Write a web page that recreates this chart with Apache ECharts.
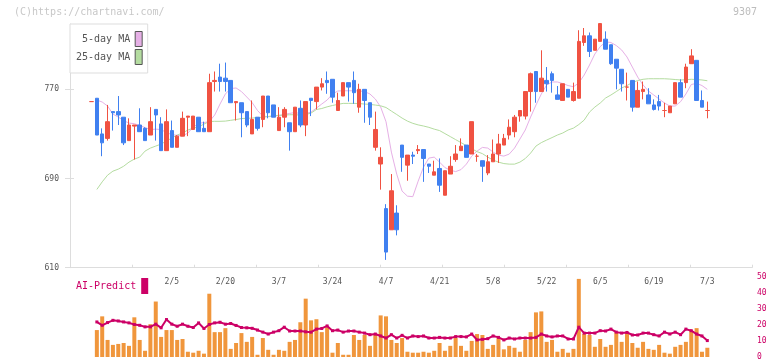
<!DOCTYPE html>
<html>
<head>
<meta charset="utf-8">
<script src="https://cdn.jsdelivr.net/npm/echarts@6/dist/echarts.min.js"></script>
<style>
html,body{margin:0;padding:0;background:#fff;}
#c{width:772px;height:361px;}
</style>
</head>
<body>
<div id="c"></div>
<script>
// ---- data ----
const dates = ['1/15','1/16','1/17','1/20','1/21','1/22','1/23','1/24','1/27','1/28','1/29','1/30','1/31',
'2/3','2/4','2/5','2/6','2/7','2/10','2/12','2/13','2/14','2/17','2/18','2/19','2/20','2/21','2/25','2/26','2/27','2/28',
'3/3','3/4','3/5','3/6','3/7','3/10','3/11','3/12','3/13','3/14','3/17','3/18','3/19','3/21','3/24','3/25','3/26','3/27','3/28','3/31',
'4/1','4/2','4/3','4/4','4/7','4/8','4/9','4/10','4/11','4/14','4/15','4/16','4/17','4/18','4/21','4/22','4/23','4/24','4/25','4/28','4/30',
'5/1','5/2','5/7','5/8','5/9','5/12','5/13','5/14','5/15','5/16','5/19','5/20','5/21','5/22','5/23','5/26','5/27','5/28','5/29','5/30',
'6/2','6/3','6/4','6/5','6/6','6/9','6/10','6/11','6/12','6/13','6/16','6/17','6/18','6/19','6/20','6/23','6/24','6/25','6/26','6/27','6/30',
'7/1','7/2','7/3'];
const tickLabels = ['2/5','2/20','3/7','3/24','4/7','4/21','5/8','5/22','6/5','6/19','7/3'];
const priceTicks = [610, 690, 770];
const subTicks = [0, 10, 20, 30, 40, 50];

const openP  = [759,762,730,726,750,750,745,724,737,738,735,729,752,739,715,733,718,728,745,734,745,735,732,777,781,780,778,758,758,750,730,745,743,764,756,733,745,740,732,753,738,762,759,772,778,779,751,764,776,778,754,770,758,718,703,663,644,659,720,702,711,715,716,703,693,699,675,694,707,715,720,712,710,706,695,705,712,720,729,732,746,746,768,786,768,778,784,765,760,770,760,762,812,818,805,813,815,810,797,788,772,778,754,768,765,756,759,751,749,757,776,776,793,796,760,751];
const closeP = [759,729,722,741,749,747,722,738,738,732,724,741,747,715,741,718,728,744,746,746,732,732,776,778,777,777,758,759,749,738,743,735,764,749,745,745,752,732,754,738,759,760,772,775,776,763,760,776,772,767,770,760,745,734,709,624,679,644,709,711,710,716,708,701,696,684,697,701,712,719,709,741,710,701,705,712,721,726,736,745,751,768,784,768,780,775,778,761,775,763,768,813,818,804,815,829,806,793,789,775,772,754,769,770,757,752,755,751,755,776,763,790,800,760,754,751];
const lowP   = [759,729,710,724,733,738,720,724,707,732,724,729,724,715,715,718,718,728,728,734,732,732,732,768,768,768,758,742,727,736,730,733,736,744,745,733,736,715,732,736,728,746,752,769,766,758,751,764,759,757,749,740,738,715,680,617,644,639,696,688,703,712,687,695,693,678,675,694,705,715,709,712,705,687,693,705,704,720,725,727,741,743,750,758,768,768,767,761,760,763,759,762,809,799,805,813,806,792,770,768,760,750,754,761,757,751,751,745,749,757,763,771,793,760,754,744];
const highP  = [759,762,735,756,750,764,745,744,738,753,736,754,752,745,752,742,729,750,746,746,745,741,784,786,793,794,778,759,758,750,760,745,764,764,756,754,754,740,754,760,759,762,772,780,786,779,767,776,776,786,775,770,758,750,718,667,694,666,720,711,714,720,716,703,706,708,697,710,720,726,720,741,712,706,711,725,730,730,743,747,751,768,785,786,805,790,786,773,775,770,776,823,825,821,815,829,822,810,797,788,785,778,777,777,771,761,765,758,755,776,779,793,806,796,769,759];

const ma5 = [null,760.4,758.6,755,747.8,745.1,742,739.7,739.2,737.5,735.7,733.9,734.3,733.9,731.2,729.4,728.7,728.1,730.8,736.1,739.5,740.2,741.1,746.9,756.8,765.8,770.7,771.2,768,763.1,758.1,751,746,745.4,746,746.5,747.4,748.4,749.2,748.2,748.2,749.6,753.2,756.8,760.4,765.8,768.5,768.7,768.7,768.7,768.5,768,765.8,761.3,754.1,740.9,713.7,693.9,678.7,674.2,673.7,687.6,700.2,708.3,709.2,704.7,699.8,697.5,696.2,698,702.9,710.1,714.6,717.9,717.3,713.7,711,710.1,711.9,717.3,725.4,733.5,745.1,755.9,765.8,773.9,776.6,776.6,775.2,773.4,772.3,775.7,782.8,791.8,801.7,808.3,812.5,812,809.3,805.3,799,790,781,773.9,768.5,764.9,761.3,757.7,755,755,758.9,765.8,774.3,775.4,773.4,770];
const ma25 = [null,680.2,687,693,696.6,698.4,701,704.7,707.4,709.2,714.6,717.3,719.1,720.9,723.6,726.3,729,730.8,733.5,735.2,736.4,738.8,741.1,741.3,741.3,741.5,742.2,742.9,743.8,744,744.2,744.7,744.9,745.6,746.3,746.7,746.9,747.2,747.2,746.9,747.4,748.7,751.9,752.8,754.3,755.5,756.5,757.4,757.4,757.4,757.2,756.8,756.5,755.9,755.2,753.7,750.5,747.4,744.2,741.5,739.5,738.1,737.1,735.9,734.3,733,730.3,727.6,724.9,722.2,719.5,716.8,714.1,712.3,709.2,706.5,704.7,703.4,702.9,702.9,704.7,707.9,712.8,719.1,722.2,724.5,726.7,729,730.8,733.5,735.2,738.4,742.4,749.6,754.1,757.7,762.2,764.9,768,771.2,773.4,776.1,777.9,779,779.5,779.5,779.5,779.5,779.2,778.8,778.4,778.6,779,778.8,778.4,777.7];

const volume = [null,16.9,25.5,10.7,7.6,8.2,8.8,7.0,24.9,10.7,3.9,20.6,34.8,12.6,16.9,16.9,10.7,11.3,3.3,2.7,3.9,2.1,39.7,15.6,15.6,18.1,5.1,8.8,15.0,9.5,12.6,1.4,11.9,4.5,1.4,4.5,3.9,9.5,10.7,21.8,36.6,23.0,23.7,15.6,18.7,2.7,8.8,1.4,1.4,13.8,10.7,13.8,7.0,13.8,26.1,25.5,10.7,8.8,11.9,3.3,2.7,2.7,3.3,2.7,3.9,8.8,3.9,7.0,11.9,7.0,3.9,10.1,14.4,13.8,5.1,7.6,11.9,4.8,7.0,5.8,3.3,10.7,15.6,28.0,28.6,9.5,10.7,3.3,5.1,2.7,5.1,49.0,14.4,13.8,6.4,11.3,6.4,7.6,15.6,9.5,15.6,8.8,5.8,9.5,5.1,4.5,7.6,2.7,2.1,6.4,7.6,9.5,16.3,18.1,3.3,5.8];
const aiPredict = [null,22.0,19.9,21.6,23.0,22.6,22.0,21.4,20.4,19.9,18.9,18.9,20.6,18.3,23.5,20.6,19.3,20.6,19.3,18.5,21.4,17.9,20.4,21.4,21.8,20.6,21.0,19.8,18.5,18.3,18.0,16.9,15.6,14.4,15.6,16.5,18.7,16.3,16.3,16.3,15.8,15.6,17.5,17.9,19.5,16.5,16.9,15.6,16.3,16.3,15.6,15.0,14.0,14.4,13.2,11.9,14.0,11.9,13.6,11.9,13.2,12.8,13.2,11.9,11.9,12.3,11.9,11.9,12.8,12.8,12.6,14.4,10.7,11.1,11.5,13.2,12.3,10.7,11.9,11.3,11.9,11.9,11.9,12.3,14.4,13.2,12.6,13.2,13.2,11.3,11.3,18.7,15.0,15.0,15.0,16.5,16.3,17.5,15.6,15.0,15.4,13.8,13.8,15.0,15.0,14.0,13.2,15.6,14.4,15.6,14.0,17.5,16.5,14.4,13.2,10.3];

// ---- chart ----
const MONO = '"DejaVu Sans Mono", "Liberation Mono", monospace';
const UP = '#f05242', DOWN = '#4080f0', CRIMSON = '#cc0066';
const candles = openP.map((o, i) => [o, closeP[i], lowP[i], highP[i]]);

const chart = echarts.init(document.getElementById('c'), null, {renderer: 'canvas'});
const PMIN = priceTicks[0], PMAX = 828.6;
const plotL = 88.82, plotR = 62.0;

chart.setOption({
  animation: false,
  backgroundColor: '#fff',
  graphic: [
    {type: 'text', left: 14, top: 7, style: {text: '(C)https://chartnavi.com/', font: '10px ' + MONO, fill: '#c8c8c8'}},
    {type: 'text', right: 15, top: 7, style: {text: '9307', font: '10px ' + MONO, fill: '#bdbdbd'}}
  ],
  legend: [
    {
      data: ['5-day MA', '25-day MA'], left: 70, top: 24, orient: 'vertical', align: 'right',
      itemWidth: 7, itemHeight: 15, itemGap: 2, padding: [7, 5, 8, 6],
      backgroundColor: '#fff', borderColor: '#dddddd', borderWidth: 1, selectedMode: false,
      icon: 'rect', itemStyle: {borderColor: '#555', borderWidth: 1},
      textStyle: {fontFamily: MONO, fontSize: 10, color: '#555'}
    },
    {
      data: ['AI-Predict'], left: 76, top: 278, orient: 'vertical', align: 'right',
      itemWidth: 7, itemHeight: 16, padding: 0, selectedMode: false, icon: 'rect',
      textStyle: {fontFamily: MONO, fontSize: 10, color: CRIMSON}
    }
  ],
  grid: [
    {left: 70, right: 20, top: 24, bottom: 93.3},
    {left: plotL, right: plotR, top: 24, bottom: 93.3},
    {left: plotL, right: plotR, top: 277.3, bottom: 2.7}
  ],
  xAxis: [
    {gridIndex: 0, type: 'value', min: 0, max: 11, interval: 1,
     axisLine: {show: true, lineStyle: {color: '#dddddd'}},
     axisTick: {show: true, inside: true, length: 3, lineStyle: {color: '#dddddd'}},
     axisLabel: {show: false}, splitLine: {show: false}},
    {gridIndex: 1, type: 'category', data: dates, boundaryGap: true,
     axisLine: {show: false}, axisTick: {show: false},
     axisLabel: {interval: 0, margin: 10, fontFamily: MONO, fontSize: 8, color: '#555',
       formatter: v => tickLabels.includes(v) ? v : ''},
     splitLine: {show: false}},
    {gridIndex: 2, type: 'category', data: dates, boundaryGap: true, show: false}
  ],
  yAxis: [
    {gridIndex: 0, type: 'value', position: 'left', min: PMIN, max: PMAX, interval: 80,
     axisLine: {show: true, lineStyle: {color: '#dddddd'}},
     axisTick: {show: true, length: 5, lineStyle: {color: '#dddddd'}},
     axisLabel: {margin: 11, fontFamily: MONO, fontSize: 8, color: '#555', showMaxLabel: false},
     splitLine: {show: false}},
    {gridIndex: 1, type: 'value', min: PMIN, max: PMAX, show: false},
    {gridIndex: 2, type: 'value', min: subTicks[0], max: subTicks[subTicks.length - 1], interval: 10,
     position: 'right', offset: 42,
     axisLine: {show: false}, axisTick: {show: false},
     axisLabel: {margin: 5, fontFamily: MONO, fontSize: 8, color: CRIMSON},
     splitLine: {show: false}},
    {gridIndex: 0, type: 'value', position: 'left', offset: 0, min: PMIN, max: PMAX, interval: 80,
     axisLine: {show: false}, axisLabel: {show: false}, splitLine: {show: false},
     axisTick: {show: true, inside: true, length: 4, lineStyle: {color: '#dddddd'}}}
  ],
  series: [
    {name: '5-day MA', type: 'line', xAxisIndex: 1, yAxisIndex: 1, data: ma5, symbol: 'none',
     color: '#e6b0e6', lineStyle: {width: 1, color: '#e6b0e6'}, z: 1},
    {name: '25-day MA', type: 'line', xAxisIndex: 1, yAxisIndex: 1, data: ma25, symbol: 'none',
     color: '#b4dca0', lineStyle: {width: 1, color: '#b4dca0'}, z: 1},
    {name: 'Price', type: 'candlestick', xAxisIndex: 1, yAxisIndex: 1, data: candles, barWidth: 4, z: 3,
     itemStyle: {color: UP, color0: DOWN, borderColor: UP, borderColor0: DOWN, borderColorDoji: UP, borderWidth: 1}},
    {name: 'Volume', type: 'bar', xAxisIndex: 2, yAxisIndex: 2, data: volume, barWidth: 4,
     itemStyle: {color: '#f0963c'}},
    {name: 'AI-Predict', type: 'line', xAxisIndex: 2, yAxisIndex: 2, data: aiPredict,
     symbol: 'rect', symbolSize: 3, showSymbol: true, color: CRIMSON,
     lineStyle: {width: 2, color: CRIMSON}, itemStyle: {color: CRIMSON}, z: 4}
  ]
});
</script>
</body>
</html>
